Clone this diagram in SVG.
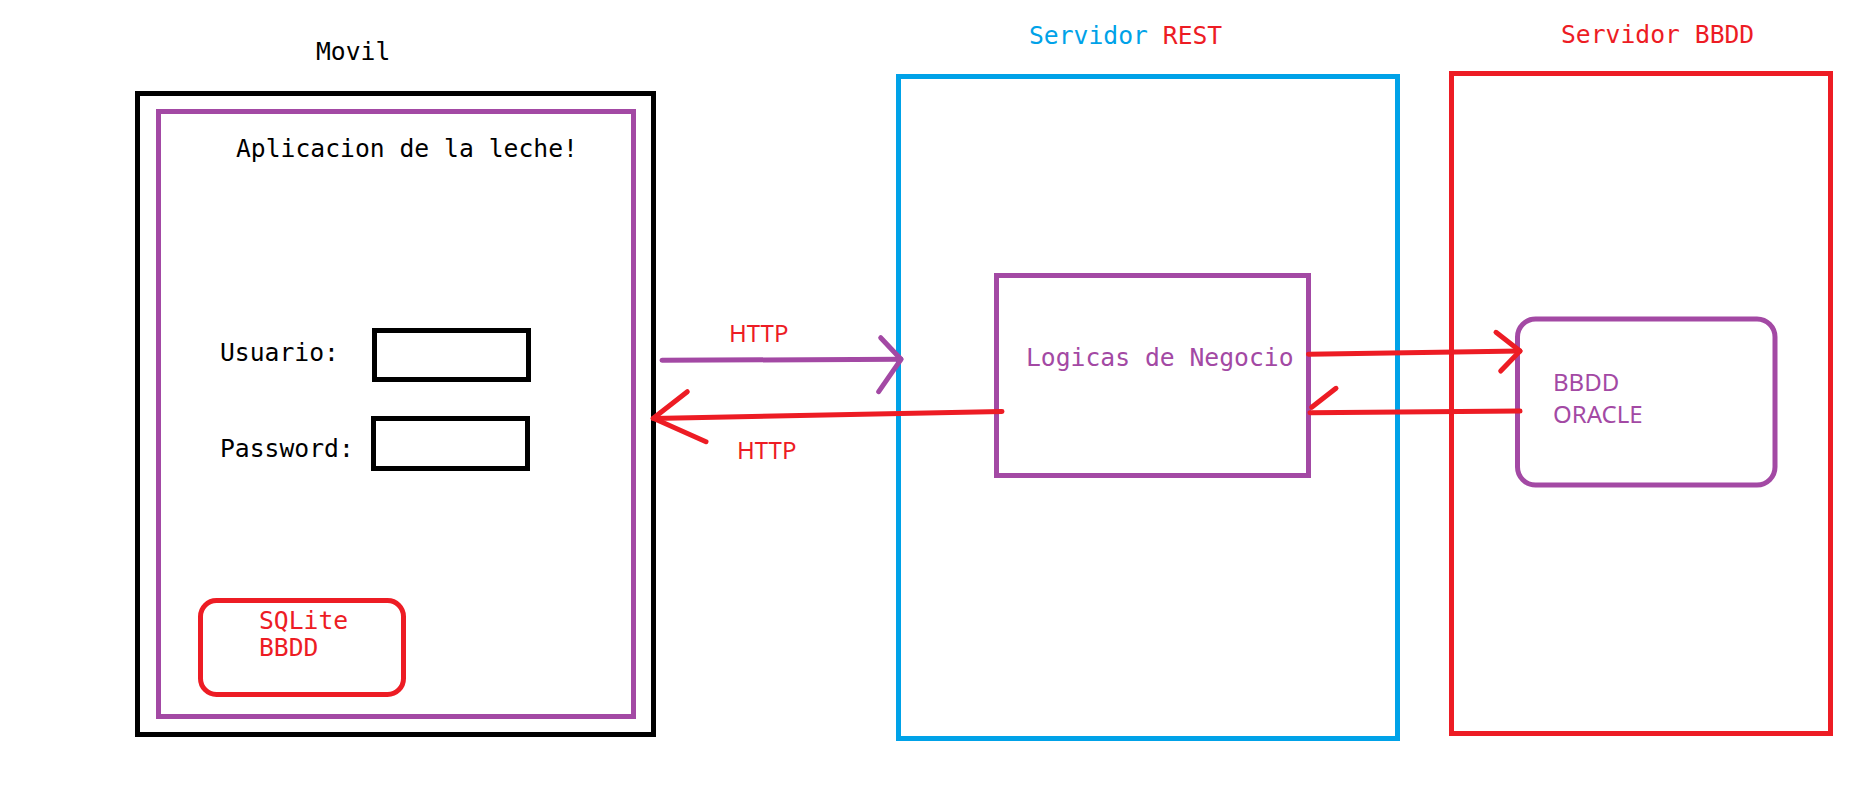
<svg xmlns="http://www.w3.org/2000/svg" width="1853" height="802" viewBox="0 0 1853 802">
<style>
.mono{font-family:"DejaVu Sans Mono","Liberation Mono",monospace;font-size:24.7px}
.sans{font-family:"Noto Sans","Open Sans","Liberation Sans",sans-serif;font-size:24px}
.box{fill:none;stroke-width:5}
.k{stroke:#000000}.p{stroke:#A349A4}.r{stroke:#ED1C24}.c{stroke:#00A2E8}
.tk{fill:#000000}.tp{fill:#A349A4}.tr{fill:#ED1C24}.tc{fill:#00A2E8}
.ln{fill:none;stroke-width:5;stroke-linecap:round;stroke-linejoin:round}
</style>
<rect width="1853" height="802" fill="#ffffff"/>
<g id="movil">
<text class="mono tk" x="316" y="60">Movil</text>
<rect class="box k" x="137.5" y="93.5" width="516" height="641"/>
</g>
<g id="app">
<rect class="box p" x="158.5" y="111.5" width="475" height="605"/>
<text class="mono tk" x="236" y="157">Aplicacion de la leche!</text>
</g>
<g id="usuario">
<text class="mono tk" x="220" y="361">Usuario:</text>
<rect class="box k" x="374.5" y="330.5" width="154" height="49"/>
</g>
<g id="password">
<text class="mono tk" x="220" y="457">Password:</text>
<rect class="box k" x="373.5" y="418.5" width="154" height="50"/>
</g>
<g id="sqlite">
<rect class="box r" x="200.5" y="600.5" width="203" height="94" rx="16"/>
<text class="mono tr" x="259" y="629">SQLite</text>
<text class="mono tr" x="259" y="656">BBDD</text>
</g>
<g id="servidor-rest">
<text class="mono" x="1029" y="44"><tspan class="tc">Servidor</tspan> <tspan class="tr">REST</tspan></text>
<rect class="box c" x="898.5" y="76.5" width="499" height="662"/>
</g>
<g id="logicas">
<rect class="box p" x="996.5" y="275.5" width="312" height="200"/>
<text class="mono tp" x="1026" y="366">Logicas de Negocio</text>
</g>
<g id="servidor-bbdd">
<text class="mono tr" x="1561" y="43">Servidor BBDD</text>
<rect class="box r" x="1451.5" y="73.5" width="379" height="660"/>
</g>
<g id="oracle">
<rect class="box p" x="1517.5" y="319" width="257.5" height="166" rx="18"/>
<text class="sans tp" x="1553" y="391">BBDD</text>
<text class="sans tp" x="1553" y="423">ORACLE</text>
</g>
<g id="connectors">
<line class="ln p" x1="662" y1="360.3" x2="901" y2="359.3"/>
<polyline class="ln p" points="880.7,337.7 901,359.3 878.7,391.7"/>
<text class="sans tr" x="729" y="342">HTTP</text>
<line class="ln r" x1="1002" y1="411.5" x2="653" y2="418.5"/>
<polyline class="ln r" points="687.3,391.7 653.3,418.3 706,441.7"/>
<text class="sans tr" x="737" y="459">HTTP</text>
<line class="ln r" x1="1308.5" y1="354.3" x2="1520" y2="351"/>
<polyline class="ln r" points="1496,332.3 1520,351 1500.7,371"/>
<line class="ln r" x1="1520" y1="411" x2="1310" y2="412.7"/>
<line class="ln r" x1="1336" y1="388.3" x2="1311.7" y2="407.3"/>
</g>
</svg>
